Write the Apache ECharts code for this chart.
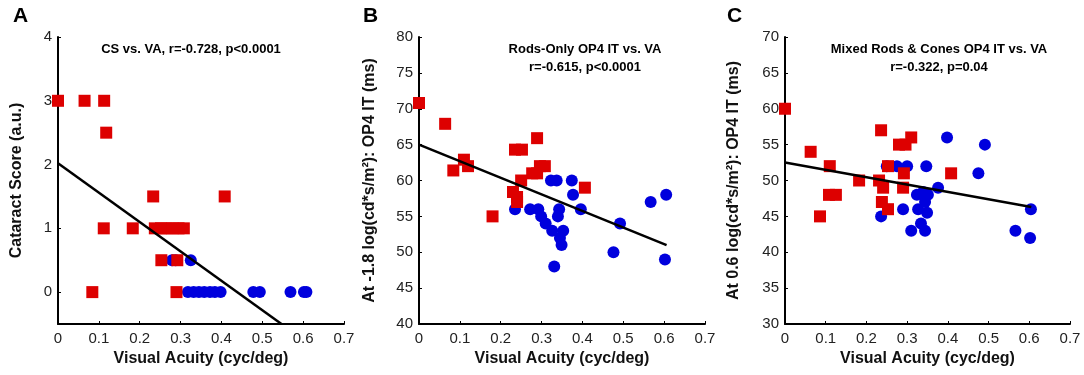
<!DOCTYPE html>
<html>
<head>
<meta charset="utf-8">
<script src="https://cdn.jsdelivr.net/npm/echarts@6/dist/echarts.min.js"></script>
<style>html,body{margin:0;padding:0;background:#fff}#c{width:1084px;height:375px}</style>
</head>
<body>
<div id="c"></div>
<script>
// ---- Data ----
const xTicks = [0, 0.1, 0.2, 0.3, 0.4, 0.5, 0.6, 0.7];
const aYTicks = [0, 1, 2, 3, 4];

const aRed = [[0.0,3],[0.065,3],[0.113,3],[0.118,2.5],[0.233,1.5],[0.408,1.5],[0.112,1],[0.183,1],[0.237,1],[0.252,1],[0.266,1],[0.28,1],[0.295,1],[0.308,1],[0.253,0.5],[0.292,0.5],[0.084,0],[0.29,0]];
const aBlue = [[0.279,0.5],[0.288,0.5],[0.325,0.5],[0.318,0],[0.332,0],[0.345,0],[0.358,0],[0.372,0],[0.384,0],[0.398,0],[0.478,0],[0.494,0],[0.569,0],[0.602,0],[0.608,0]];
const aFit = [[0,2.02],[0.547,-0.5]];

const bRed = [[0,70.8],[0.064,67.9],[0.084,61.4],[0.11,62.9],[0.12,62],[0.235,64.3],[0.252,64.3],[0.289,65.9],[0.296,62],[0.308,62],[0.277,61],[0.289,61],[0.25,60],[0.23,58.4],[0.24,57.7],[0.24,57],[0.18,55],[0.406,59]];
const bBlue = [[0.323,60],[0.337,60],[0.374,60],[0.377,58],[0.235,56],[0.272,56],[0.292,56],[0.299,55],[0.31,54],[0.326,53],[0.343,56],[0.34,55],[0.353,53],[0.345,52],[0.349,51],[0.331,48],[0.396,56],[0.492,54],[0.476,50],[0.567,57],[0.605,58],[0.602,49]];
const bFit = [[0,65],[0.606,51]];

const cRed = [[0,60],[0.063,54],[0.11,52],[0.108,48],[0.125,48],[0.086,45],[0.182,50],[0.231,50],[0.236,57],[0.241,49],[0.238,47],[0.253,46],[0.253,52],[0.28,55],[0.296,55],[0.31,56],[0.292,51],[0.29,49],[0.408,51]];
const cBlue = [[0.25,52],[0.275,52],[0.3,52],[0.347,52],[0.398,56],[0.491,55],[0.475,51],[0.376,49],[0.324,48],[0.339,48.4],[0.351,48],[0.344,47],[0.29,46],[0.327,46],[0.349,45.5],[0.236,45],[0.334,44],[0.31,43],[0.344,43],[0.566,43],[0.602,42],[0.604,46]];
const cFit = [[0,52.5],[0.605,46.3]];

const panelLetters = ['A', 'B', 'C'];
const titles = [
  'CS vs. VA, r=-0.728, p<0.0001',
  'Rods-Only OP4 IT vs. VA\nr=-0.615, p<0.0001',
  'Mixed Rods & Cones OP4 IT vs. VA\nr=-0.322, p=0.04'
];
const yNames = ['Cataract Score (a.u.)', 'At -1.8 log(cd*s/m²): OP4 IT (ms)', 'At 0.6 log(cd*s/m²): OP4 IT (ms)'];
const xName = 'Visual Acuity (cyc/deg)';

// ---- Styles ----
const FONT = '"Liberation Sans", Arial, sans-serif';
const RED = '#dd0000', BLUE = '#0000dd';
const grids = [
  {left: 58, top: 37, width: 286, height: 287},
  {left: 419, top: 37, width: 286, height: 287},
  {left: 785, top: 37, width: 285, height: 287}
];
const yRanges = [[-0.5, 4, null], [40, 80, 5], [30, 70, 5]];
const nameGaps = [33, 41, 43];

function xAxis(i) {
  return {
    type: 'value', gridIndex: i, min: 0, max: 0.7, interval: 0.1,
    name: xName, nameLocation: 'middle', nameGap: 27,
    nameTextStyle: {fontFamily: FONT, fontWeight: 'bold', fontSize: 16, color: '#111'},
    axisLine: {onZero: false, lineStyle: {color: '#000', width: 2}},
    axisTick: {inside: true, length: 3, lineStyle: {color: '#000'}},
    axisLabel: {fontFamily: FONT, fontSize: 15, color: '#222', margin: 7,
      formatter: v => v === 0 ? '0' : (+v).toFixed(1)},
    splitLine: {show: false}
  };
}
function yAxis(i) {
  const r = yRanges[i];
  const ax = {
    type: 'value', gridIndex: i, min: r[0], max: r[1],
    name: yNames[i], nameLocation: 'middle', nameRotate: 90, nameGap: nameGaps[i],
    nameTextStyle: {fontFamily: FONT, fontWeight: 'bold', fontSize: 16, color: '#111'},
    axisLine: {show: true, onZero: false, lineStyle: {color: '#000', width: 2}},
    axisTick: {inside: true, length: 3, lineStyle: {color: '#000'}},
    axisLabel: {fontFamily: FONT, fontSize: 15, color: '#222', margin: 6},
    splitLine: {show: false}
  };
  if (r[2]) ax.interval = r[2];
  else {
    ax.axisLabel.customValues = aYTicks;
    ax.axisTick.customValues = aYTicks;
  }
  return ax;
}

const reds = [aRed, bRed, cRed], blues = [aBlue, bBlue, cBlue], fits = [aFit, bFit, cFit];
const series = [];
for (let i = 0; i < 3; i++) {
  series.push({type: 'scatter', xAxisIndex: i, yAxisIndex: i, data: blues[i], symbol: 'circle', symbolSize: 12, itemStyle: {color: BLUE, opacity: 1}, z: 2});
  series.push({type: 'scatter', xAxisIndex: i, yAxisIndex: i, data: reds[i], symbol: 'rect', symbolSize: 12, itemStyle: {color: RED, opacity: 1}, z: 3});
  series.push({type: 'line', xAxisIndex: i, yAxisIndex: i, data: fits[i], symbol: 'none', lineStyle: {color: '#000', width: 2.5}, z: 4});
}

const titleComps = [];
const letterX = [13, 363, 727];
const titleCenters = [186, 580, 934];
for (let i = 0; i < 3; i++) {
  titleComps.push({text: panelLetters[i], left: letterX[i], top: 6, padding: 0,
    textStyle: {fontFamily: FONT, fontWeight: 'bold', fontSize: 21, color: '#000'}});
  titleComps.push({text: titles[i], left: titleCenters[i], top: 35, textAlign: 'center',
    textStyle: {fontFamily: FONT, fontWeight: 'bold', fontSize: 13, color: '#000', lineHeight: 18}});
}

const chart = echarts.init(document.getElementById('c'), null, {renderer: 'canvas'});
chart.setOption({
  animation: false,
  backgroundColor: '#fff',
  title: titleComps,
  grid: grids,
  xAxis: [0, 1, 2].map(xAxis),
  yAxis: [0, 1, 2].map(yAxis),
  series: series
});
</script>
</body>
</html>
